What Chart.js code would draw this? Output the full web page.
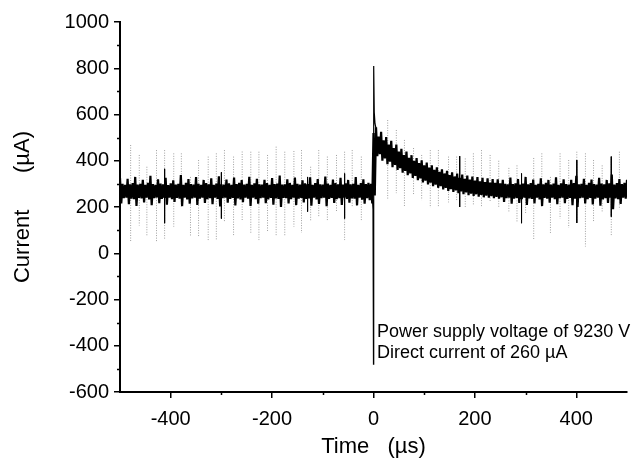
<!DOCTYPE html>
<html>
<head>
<meta charset="utf-8">
<script src="https://cdn.jsdelivr.net/npm/chart.js@4/dist/chart.umd.min.js"></script>
<style>
html,body{margin:0;padding:0;background:#fff;}
#wrap{width:638px;height:466px;position:relative;}
</style>
</head>
<body>
<div id="wrap"><canvas id="c" width="638" height="466"></canvas></div>
<script>
// ---- data ----
const timeStep = 5;          // µs between envelope samples
const timeStart = -500;
// upper edge of the dense signal band, x = -500 .. 500 step 5
const bandUpper = [
325,300,296,322,298,303,330,297,300,318,
296,305,335,299,296,320,301,298,326,295,
302,315,297,300,338,296,304,321,299,297,
329,300,296,317,303,298,324,296,301,333,
298,297,319,302,296,327,299,305,316,297,
300,331,296,302,322,298,297,318,303,296,
325,299,301,336,297,298,320,304,296,327,
300,297,315,302,299,328,296,303,321,298,
297,332,301,296,319,304,298,326,297,302,
317,298,300,329,296,303,320,299,305,300,
520,
545,505,525,488,502,470,486,455,470,440,
452,425,440,413,424,400,412,390,402,380,
392,370,380,361,372,352,363,345,356,338,
350,332,345,326,340,322,336,318,332,314,
329,311,326,308,324,306,321,304,320,302,
318,300,298,327,299,302,321,297,301,330,
298,303,319,296,300,324,298,304,317,297,
301,328,296,302,320,299,297,318,303,335,
298,300,322,296,304,319,299,297,326,301,
298,317,302,340,297,303,321,299,304,318
];
// lower edge of the band
const bandLower = [
215,238,240,212,236,234,205,239,237,220,
240,233,208,238,241,216,235,239,210,240,
234,222,239,236,204,240,233,214,237,240,
209,236,240,218,234,238,212,240,235,202,
238,240,219,235,239,207,237,233,221,240,
236,205,240,234,214,238,240,217,233,239,
210,237,235,200,239,238,215,234,240,208,
236,239,220,235,237,206,240,233,213,238,
240,203,235,239,218,234,238,209,240,235,
219,237,236,207,240,232,214,238,230,215,
250,
420,428,400,410,385,396,372,382,360,368,
348,356,338,345,326,334,316,324,306,314,
298,305,290,297,283,290,276,283,270,277,
265,272,260,267,255,263,251,258,248,255,
245,252,242,249,240,247,238,244,236,242,
222,238,240,214,236,239,218,234,240,209,
237,235,216,240,233,205,239,236,219,240,
234,212,238,240,217,235,239,208,236,200,
238,240,215,234,239,211,236,240,206,233,
238,218,240,190,237,234,213,240,236,216
];
// faint (grey, dotted) noise excursions
const greyX   = [-479,-462,-447,-428,-412,-394,-379,-361,-345,-326,-310,-294,-276,-259,-242,-226,-209,-192,-175,-157,-142,-124,-108,-91,-73,-57,-42,-24,28,45,61,79,95,112,128,148,164,181,197,213,230,247,267,283,300,316,332,349,368,385,401,418,434,451,469,485];
const greyTop = [468,425,374,446,446,432,432,330,403,418,432,446,418,440,439,439,425,461,439,442,446,374,446,418,425,439,446,418,576,533,490,455,425,446,446,418,418,410,432,446,425,400,369,380,330,412,432,330,432,403,439,432,403,380,418,439];
const greyBot = [49,120,72,50,57,115,200,72,72,57,57,137,72,140,88,57,93,72,72,115,88,137,160,137,180,57,200,140,230,260,201,250,230,197,200,220,230,200,210,200,220,200,180,137,170,57,200,88,150,110,131,29,137,180,72,190];
// solid black excursions beyond the band
const blackX   = [-499,-412,-300,-130,-57,170,292,401,469];
const blackTop = [720,365,350,330,345,420,345,403,418];
const blackBot = [120,130,150,180,150,200,130,131,158];
// discharge spike at t = 0
const spikeX = [-3,-1,0,0.4,1.5,3,5];
const spikeY = [270,190,-480,810,610,560,540];
// axis ticks
const xTicks = [-400,-200,0,200,400];
const xMinor = [-300,-100,100,300];
const yTicks = [-600,-400,-200,0,200,400,600,800,1000];
const yMinor = [-500,-300,-100,100,300,500,700,900];
// annotation
const noteLines = ['Power supply voltage of 9230 V','Direct current of 260 \u00b5A'];
const noteX = 7;
const noteY = [-340,-431];

// ---- build library data ----
// the trace swings between the upper and lower edge of the band
const tracePts = [];
bandUpper.forEach((v,i)=>{
  const t = timeStart + i*timeStep;
  tracePts.push({x:t, y:v});
  tracePts.push({x:t + timeStep/2, y:bandLower[i]});
});
function segs(xs,tops,bots){
  const out=[];
  xs.forEach((x,i)=>{out.push({x:x,y:tops[i]});out.push({x:x,y:bots[i]});out.push({x:x,y:null});});
  return out;
}
const greyPts = segs(greyX,greyTop,greyBot);
const blackPts = segs(blackX,blackTop,blackBot);
const spikePts = spikeX.map((x,i)=>({x:x,y:spikeY[i]}));

const FONT = "'Liberation Sans', Arial, sans-serif";

const extras = {
  id:'extras',
  afterDraw(chart){
    const ctx = chart.ctx, xs = chart.scales.x, ys = chart.scales.y;
    const a = chart.chartArea;
    ctx.save();
    ctx.strokeStyle='#000'; ctx.lineWidth=1.5;
    ctx.beginPath();
    yMinor.forEach(v=>{const p=Math.round(ys.getPixelForValue(v))+0.5;ctx.moveTo(a.left-3,p);ctx.lineTo(a.left,p);});
    xMinor.forEach(v=>{const p=Math.round(xs.getPixelForValue(v))+0.5;ctx.moveTo(p,a.bottom);ctx.lineTo(p,a.bottom+3);});
    ctx.stroke();
    ctx.fillStyle='#000';
    ctx.font = '18px ' + FONT;
    ctx.textAlign='left'; ctx.textBaseline='middle';
    noteLines.forEach((t,i)=>ctx.fillText(t, xs.getPixelForValue(noteX), ys.getPixelForValue(noteY[i])));
    ctx.restore();
  }
};

new Chart(document.getElementById('c'),{
  type:'line',
  data:{datasets:[
    {data:tracePts,borderColor:'#000',borderWidth:2.2,fill:false,pointRadius:0,order:1},
    {data:greyPts,borderColor:'rgba(0,0,0,0.38)',borderWidth:1,borderDash:[1,1.5],fill:false,pointRadius:0,spanGaps:false,order:5},
    {data:blackPts,borderColor:'#000',borderWidth:1,fill:false,pointRadius:0,spanGaps:false,order:0},
    {data:spikePts,borderColor:'#000',borderWidth:1.2,fill:false,pointRadius:0,order:0}
  ]},
  options:{
    responsive:false,animation:false,
    layout:{padding:{top:22,right:11,left:0,bottom:0}},
    plugins:{legend:{display:false},tooltip:{enabled:false}},
    elements:{line:{tension:0,borderJoinStyle:'miter'}},
    scales:{
      x:{type:'linear',min:-500,max:500,
        afterBuildTicks:s=>{s.ticks=xTicks.map(v=>({value:v}));},
        afterFit:s=>{s.height=74;},
        grid:{drawOnChartArea:false,drawTicks:true,tickLength:6,color:'#000',lineWidth:1.5},
        border:{display:true,color:'#000',width:2},
        ticks:{color:'#000',font:{family:FONT,size:20},padding:9,maxRotation:0,autoSkip:false,callback:v=>String(v)},
        title:{display:true,text:'Time   (\u00b5s)',color:'#000',font:{family:FONT,size:22},padding:{top:0,bottom:6}}
      },
      y:{type:'linear',min:-600,max:1000,
        afterBuildTicks:s=>{s.ticks=yTicks.map(v=>({value:v}));},
        afterFit:s=>{s.width=120;},
        grid:{drawOnChartArea:false,drawTicks:true,tickLength:6,color:'#000',lineWidth:1.5},
        border:{display:true,color:'#000',width:2},
        ticks:{color:'#000',font:{family:FONT,size:20},padding:5,autoSkip:false,callback:v=>String(v)},
        title:{display:true,text:'Current      (\u00b5A)',color:'#000',font:{family:FONT,size:22},padding:{top:10,bottom:0}}
      }
    }
  },
  plugins:[extras]
});
</script>
</body>
</html>
